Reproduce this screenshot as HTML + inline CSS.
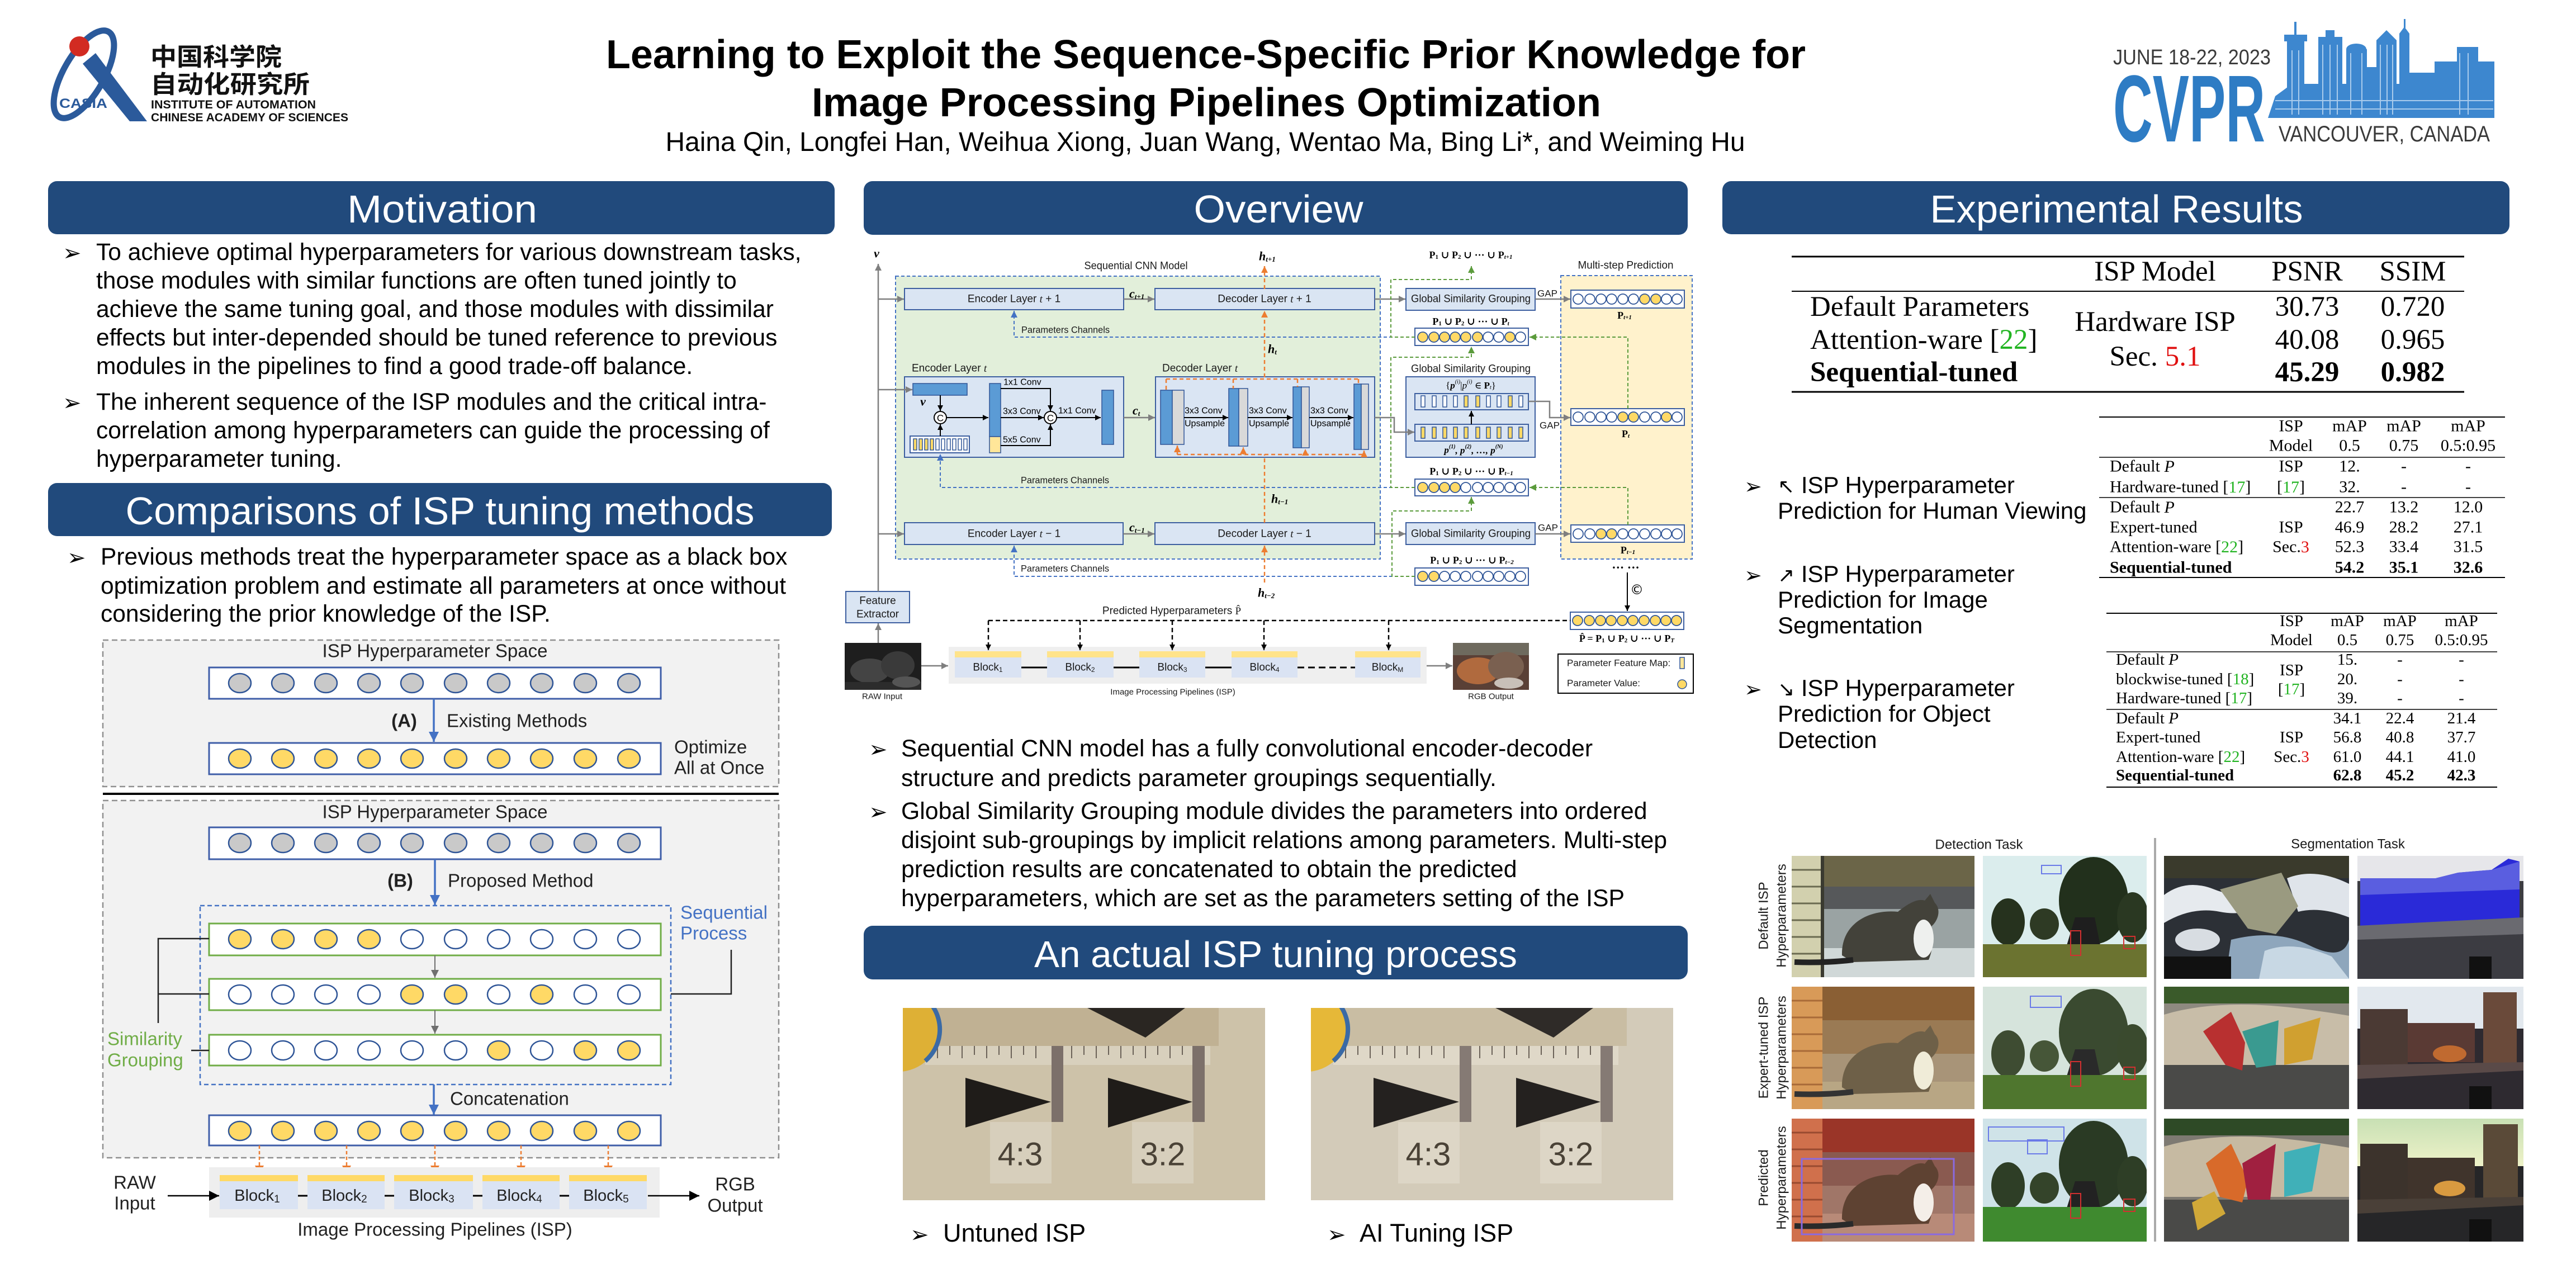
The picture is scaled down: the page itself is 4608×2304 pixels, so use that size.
<!DOCTYPE html>
<html><head><meta charset="utf-8">
<style>
html,body{margin:0;padding:0;background:#fff;}
#p{position:relative;width:4608px;height:2304px;overflow:hidden;background:#fff;}
svg{position:absolute;left:0;top:0;}
text{font-family:"Liberation Sans","DejaVu Sans",sans-serif;}
.sf{font-family:"Liberation Serif","DejaVu Serif",serif;}
.m{font-family:"Liberation Serif","DejaVu Serif",serif;font-weight:bold;font-style:italic;}
.pb{font-family:"Liberation Serif","DejaVu Serif",serif;font-weight:bold;}
.dj{font-family:"DejaVu Sans",sans-serif;}
.cjk{font-family:"Noto Sans CJK SC","WenQuanYi Zen Hei",sans-serif;}
</style></head><body><div id="p">
<svg width="4608" height="2304" viewBox="0 0 4608 2304">
<defs>
<marker id="aG" viewBox="0 0 10 10" refX="10" refY="5" markerWidth="12" markerHeight="12" markerUnits="userSpaceOnUse" orient="auto"><path d="M0,0L10,5L0,10z" fill="#7f7f7f"/></marker>
<marker id="aK" viewBox="0 0 10 10" refX="10" refY="5" markerWidth="10" markerHeight="10" markerUnits="userSpaceOnUse" orient="auto"><path d="M0,0L10,5L0,10z" fill="#000"/></marker>
<marker id="aO" viewBox="0 0 10 10" refX="10" refY="5" markerWidth="12" markerHeight="12" markerUnits="userSpaceOnUse" orient="auto"><path d="M0,0L10,5L0,10z" fill="#ed7d31"/></marker>
<marker id="aB" viewBox="0 0 10 10" refX="10" refY="5" markerWidth="12" markerHeight="12" markerUnits="userSpaceOnUse" orient="auto"><path d="M0,0L10,5L0,10z" fill="#4472c4"/></marker>
<marker id="aGr" viewBox="0 0 10 10" refX="10" refY="5" markerWidth="12" markerHeight="12" markerUnits="userSpaceOnUse" orient="auto"><path d="M0,0L10,5L0,10z" fill="#5b9b3c"/></marker>
<marker id="LB" viewBox="0 0 10 10" refX="10" refY="5" markerWidth="18" markerHeight="18" markerUnits="userSpaceOnUse" orient="auto"><path d="M0,0L10,5L0,10z" fill="#4472c4"/></marker>
<marker id="LK" viewBox="0 0 10 10" refX="10" refY="5" markerWidth="18" markerHeight="18" markerUnits="userSpaceOnUse" orient="auto"><path d="M0,0L10,5L0,10z" fill="#000"/></marker>
<marker id="LO" viewBox="0 0 10 10" refX="10" refY="5" markerWidth="16" markerHeight="16" markerUnits="userSpaceOnUse" orient="auto"><path d="M0,0L10,5L0,10z" fill="#ed7d31"/></marker>
<marker id="LG" viewBox="0 0 10 10" refX="10" refY="5" markerWidth="14" markerHeight="14" markerUnits="userSpaceOnUse" orient="auto"><path d="M0,0L10,5L0,10z" fill="#6f6f6f"/></marker>
<linearGradient id="sky1" x1="0" y1="0" x2="0" y2="1"><stop offset="0" stop-color="#c8e0b4"/><stop offset="1" stop-color="#eef2c8"/></linearGradient>
</defs>

<!-- ============ HEADER ============ -->
<ellipse cx="150" cy="133" rx="36" ry="88" transform="rotate(30 150 133)" fill="none" stroke="#2b5a9b" stroke-width="11"/>
<polygon points="148,114 171,95 263,217 232,217" fill="#2b5a9b"/>
<circle cx="142" cy="83" r="18" fill="#d22b22"/>
<text x="106" y="193" font-size="24" font-weight="bold" fill="#2b5a9b" textLength="86" lengthAdjust="spacingAndGlyphs">CASIA</text>
<text x="269" y="117" class="cjk" font-size="44" font-weight="bold" fill="#111" textLength="235" lengthAdjust="spacingAndGlyphs">中国科学院</text>
<text x="269" y="166" class="cjk" font-size="44" font-weight="bold" fill="#111" textLength="285" lengthAdjust="spacingAndGlyphs">自动化研究所</text>
<text x="270" y="194" font-size="21" font-weight="bold" fill="#111" textLength="295" lengthAdjust="spacingAndGlyphs">INSTITUTE OF AUTOMATION</text>
<text x="270" y="217" font-size="21" font-weight="bold" fill="#111" textLength="353" lengthAdjust="spacingAndGlyphs">CHINESE ACADEMY OF SCIENCES</text>

<text x="2157" y="122" font-size="72" font-weight="bold" text-anchor="middle" fill="#000" textLength="2146" lengthAdjust="spacingAndGlyphs">Learning to Exploit the Sequence-Specific Prior Knowledge for</text>
<text x="2158" y="208" font-size="72" font-weight="bold" text-anchor="middle" fill="#000" textLength="1412" lengthAdjust="spacingAndGlyphs">Image Processing Pipelines Optimization</text>
<text x="2156" y="270" font-size="48" text-anchor="middle" fill="#000" textLength="1931" lengthAdjust="spacingAndGlyphs">Haina Qin, Longfei Han, Weihua Xiong, Juan Wang, Wentao Ma, Bing Li*, and Weiming Hu</text>

<text x="3780" y="115" font-size="38" fill="#3a3a3a" textLength="282" lengthAdjust="spacingAndGlyphs">JUNE 18-22, 2023</text>
<text x="3780" y="253" font-size="170" font-weight="bold" fill="#2e7cc4" textLength="272" lengthAdjust="spacingAndGlyphs">CVPR</text>
<g fill="#3d87cf">
<rect x="4091" y="68" width="31" height="143"/><rect x="4104" y="39" width="4" height="30"/><rect x="4086" y="62" width="41" height="12"/>
<rect x="4147" y="66" width="43" height="145"/><rect x="4160" y="54" width="16" height="14"/>
<rect x="4197" y="88" width="37" height="123"/><ellipse cx="4215" cy="88" rx="18" ry="10"/>
<rect x="4251" y="72" width="36" height="139"/><polygon points="4251,72 4269,54 4287,72"/>
<rect x="4292" y="60" width="18" height="151"/><polygon points="4292,60 4301,48 4310,60"/><rect x="4300" y="34" width="3" height="16"/>
<rect x="4355" y="110" width="40" height="101"/>
<rect x="4395" y="84" width="38" height="127"/>
<rect x="4433" y="110" width="29" height="101"/>
<polygon points="4057,211 4070,172 4100,150 4462,150 4462,211"/>
<rect x="4310" y="130" width="45" height="81"/>
<rect x="4234" y="120" width="17" height="91"/>
</g>
<g stroke="#a9cbec" stroke-width="2" fill="none">
<path d="M4100,90 V205 M4112,90 V205 M4155,80 V205 M4168,80 V205 M4181,80 V205 M4205,95 V205 M4225,95 V205 M4258,80 V205 M4270,80 V205 M4280,80 V205 M4400,95 V205 M4415,95 V205 M4070,180 H4460 M4070,195 H4460"/>
</g>
<text x="4076" y="253" font-size="40" fill="#3a3a3a" textLength="378" lengthAdjust="spacingAndGlyphs">VANCOUVER, CANADA</text>

<!-- ============ SECTION HEADERS ============ -->
<g fill="#214a7c">
<rect x="86" y="324" width="1407" height="95" rx="16"/>
<rect x="86" y="864" width="1402" height="95" rx="16"/>
<rect x="1545" y="324" width="1474" height="96" rx="16"/>
<rect x="3081" y="324" width="1408" height="95" rx="16"/>
<rect x="1545" y="1656" width="1474" height="96" rx="16"/>
</g>
<g fill="#fff" text-anchor="middle">
<text x="791" y="398" font-size="70" textLength="340" lengthAdjust="spacingAndGlyphs">Motivation</text>
<text x="787" y="938" font-size="70" textLength="1125" lengthAdjust="spacingAndGlyphs">Comparisons of ISP tuning methods</text>
<text x="2287" y="398" font-size="70" textLength="303" lengthAdjust="spacingAndGlyphs">Overview</text>
<text x="3786" y="398" font-size="70" textLength="667" lengthAdjust="spacingAndGlyphs">Experimental Results</text>
<text x="2282" y="1730" font-size="67" textLength="864" lengthAdjust="spacingAndGlyphs">An actual ISP tuning process</text>
</g>

<!-- ============ LEFT TEXT ============ -->
<g font-size="42.5" fill="#000">
<text x="112" y="466" class="dj" font-size="40">➢</text>
<text x="172" y="465">To achieve optimal hyperparameters for various downstream tasks,</text>
<text x="172" y="516">those modules with similar functions are often tuned jointly to</text>
<text x="172" y="567">achieve the same tuning goal, and those modules with dissimilar</text>
<text x="172" y="618">effects but inter-depended should be tuned reference to previous</text>
<text x="172" y="669">modules in the pipelines to find a good trade-off balance.</text>
<text x="112" y="734" class="dj" font-size="40">➢</text>
<text x="172" y="733">The inherent sequence of the ISP modules and the critical intra-</text>
<text x="172" y="784">correlation among hyperparameters can guide the processing of</text>
<text x="172" y="835">hyperparameter tuning.</text>
<text x="120" y="1011" class="dj" font-size="40">➢</text>
<text x="180" y="1010">Previous methods treat the hyperparameter space as a black box</text>
<text x="180" y="1062">optimization problem and estimate all parameters at once without</text>
<text x="180" y="1112">considering the prior knowledge of the ISP.</text>
</g>

<!-- ============ LEFT DIAGRAM ============ -->
<g fill="#f2f2f2" stroke="#8f8f8f" stroke-width="2.5" stroke-dasharray="10 6">
<rect x="184" y="1145" width="1209" height="262"/>
<rect x="184" y="1432" width="1209" height="639"/>
</g>
<line x1="184" y1="1420" x2="1393" y2="1420" stroke="#000" stroke-width="4"/>
<rect x="358" y="1620" width="842" height="320" fill="none" stroke="#4472c4" stroke-width="2.5" stroke-dasharray="8 5"/>
<g fill="#fff" stroke-width="3">
<rect x="374" y="1194" width="808" height="56" stroke="#3f5ea8"/>
<rect x="374" y="1329" width="808" height="56" stroke="#3f5ea8"/>
<rect x="374" y="1480" width="808" height="57" stroke="#3f5ea8"/>
<rect x="374" y="1652" width="808" height="57" stroke="#70ad47"/>
<rect x="374" y="1751" width="808" height="56" stroke="#70ad47"/>
<rect x="374" y="1851" width="808" height="55" stroke="#70ad47"/>
<rect x="374" y="1995" width="808" height="54" stroke="#3f5ea8"/>
</g>
<g stroke="#2f5597" stroke-width="2.5">
<g fill="#c9c9c9"><ellipse cx="429" cy="1222" rx="20" ry="17"/><ellipse cx="506" cy="1222" rx="20" ry="17"/><ellipse cx="583" cy="1222" rx="20" ry="17"/><ellipse cx="660" cy="1222" rx="20" ry="17"/><ellipse cx="737" cy="1222" rx="20" ry="17"/><ellipse cx="815" cy="1222" rx="20" ry="17"/><ellipse cx="892" cy="1222" rx="20" ry="17"/><ellipse cx="969" cy="1222" rx="20" ry="17"/><ellipse cx="1047" cy="1222" rx="20" ry="17"/><ellipse cx="1125" cy="1222" rx="20" ry="17"/>
<ellipse cx="429" cy="1508" rx="20" ry="17"/><ellipse cx="506" cy="1508" rx="20" ry="17"/><ellipse cx="583" cy="1508" rx="20" ry="17"/><ellipse cx="660" cy="1508" rx="20" ry="17"/><ellipse cx="737" cy="1508" rx="20" ry="17"/><ellipse cx="815" cy="1508" rx="20" ry="17"/><ellipse cx="892" cy="1508" rx="20" ry="17"/><ellipse cx="969" cy="1508" rx="20" ry="17"/><ellipse cx="1047" cy="1508" rx="20" ry="17"/><ellipse cx="1125" cy="1508" rx="20" ry="17"/></g>
<g fill="#ffd966"><ellipse cx="429" cy="1357" rx="20" ry="17"/><ellipse cx="506" cy="1357" rx="20" ry="17"/><ellipse cx="583" cy="1357" rx="20" ry="17"/><ellipse cx="660" cy="1357" rx="20" ry="17"/><ellipse cx="737" cy="1357" rx="20" ry="17"/><ellipse cx="815" cy="1357" rx="20" ry="17"/><ellipse cx="892" cy="1357" rx="20" ry="17"/><ellipse cx="969" cy="1357" rx="20" ry="17"/><ellipse cx="1047" cy="1357" rx="20" ry="17"/><ellipse cx="1125" cy="1357" rx="20" ry="17"/>
<ellipse cx="429" cy="2023" rx="20" ry="17"/><ellipse cx="506" cy="2023" rx="20" ry="17"/><ellipse cx="583" cy="2023" rx="20" ry="17"/><ellipse cx="660" cy="2023" rx="20" ry="17"/><ellipse cx="737" cy="2023" rx="20" ry="17"/><ellipse cx="815" cy="2023" rx="20" ry="17"/><ellipse cx="892" cy="2023" rx="20" ry="17"/><ellipse cx="969" cy="2023" rx="20" ry="17"/><ellipse cx="1047" cy="2023" rx="20" ry="17"/><ellipse cx="1125" cy="2023" rx="20" ry="17"/>
<ellipse cx="429" cy="1680" rx="20" ry="17"/><ellipse cx="506" cy="1680" rx="20" ry="17"/><ellipse cx="583" cy="1680" rx="20" ry="17"/><ellipse cx="660" cy="1680" rx="20" ry="17"/>
<ellipse cx="737" cy="1779" rx="20" ry="17"/><ellipse cx="815" cy="1779" rx="20" ry="17"/><ellipse cx="969" cy="1779" rx="20" ry="17"/>
<ellipse cx="892" cy="1879" rx="20" ry="17"/><ellipse cx="1047" cy="1879" rx="20" ry="17"/><ellipse cx="1125" cy="1879" rx="20" ry="17"/></g>
<g fill="#fff"><ellipse cx="737" cy="1680" rx="20" ry="17"/><ellipse cx="815" cy="1680" rx="20" ry="17"/><ellipse cx="892" cy="1680" rx="20" ry="17"/><ellipse cx="969" cy="1680" rx="20" ry="17"/><ellipse cx="1047" cy="1680" rx="20" ry="17"/><ellipse cx="1125" cy="1680" rx="20" ry="17"/>
<ellipse cx="429" cy="1779" rx="20" ry="17"/><ellipse cx="506" cy="1779" rx="20" ry="17"/><ellipse cx="583" cy="1779" rx="20" ry="17"/><ellipse cx="660" cy="1779" rx="20" ry="17"/><ellipse cx="892" cy="1779" rx="20" ry="17"/><ellipse cx="1047" cy="1779" rx="20" ry="17"/><ellipse cx="1125" cy="1779" rx="20" ry="17"/>
<ellipse cx="429" cy="1879" rx="20" ry="17"/><ellipse cx="506" cy="1879" rx="20" ry="17"/><ellipse cx="583" cy="1879" rx="20" ry="17"/><ellipse cx="660" cy="1879" rx="20" ry="17"/><ellipse cx="737" cy="1879" rx="20" ry="17"/><ellipse cx="815" cy="1879" rx="20" ry="17"/><ellipse cx="969" cy="1879" rx="20" ry="17"/></g>
</g>
<g stroke="#4472c4" stroke-width="3.5" fill="none">
<path d="M776,1250 V1327" marker-end="url(#LB)"/>
<path d="M778,1537 V1619" marker-end="url(#LB)"/>
<path d="M776,1940 V1994" marker-end="url(#LB)"/>
</g>
<g stroke="#6f6f6f" stroke-width="2" fill="none">
<path d="M778,1709 V1749" marker-end="url(#LG)"/>
<path d="M778,1807 V1849" marker-end="url(#LG)"/>
</g>
<g stroke="#222" stroke-width="2.5" fill="none">
<path d="M374,1679 H283 V1830 M283,1778 H374 M342,1879 H374 M1200,1778 H1308 V1699"/>
</g>
<g stroke="#ed7d31" stroke-width="2.5" stroke-dasharray="6 4" fill="none">
<path d="M464,2049 V2101" marker-end="url(#LO)"/>
<path d="M620,2049 V2101" marker-end="url(#LO)"/>
<path d="M778,2049 V2101" marker-end="url(#LO)"/>
<path d="M932,2049 V2101" marker-end="url(#LO)"/>
<path d="M1088,2049 V2101" marker-end="url(#LO)"/>
</g>
<rect x="374" y="2088" width="806" height="90" fill="#eeeeee"/>
<g fill="#ffd966"><rect x="393" y="2102" width="140" height="11"/><rect x="550" y="2102" width="138" height="11"/><rect x="705" y="2102" width="141" height="11"/><rect x="863" y="2102" width="138" height="11"/><rect x="1018" y="2102" width="139" height="11"/></g>
<g fill="#dae3f3"><rect x="393" y="2113" width="140" height="50"/><rect x="550" y="2113" width="138" height="50"/><rect x="705" y="2113" width="141" height="50"/><rect x="863" y="2113" width="138" height="50"/><rect x="1018" y="2113" width="139" height="50"/></g>
<g stroke="#000" stroke-width="3"><line x1="533" y1="2139" x2="550" y2="2139"/><line x1="688" y1="2139" x2="705" y2="2139"/><line x1="846" y1="2139" x2="863" y2="2139"/><line x1="1001" y1="2139" x2="1018" y2="2139"/></g>
<g stroke="#000" stroke-width="2.5" fill="none">
<path d="M300,2139 H392" marker-end="url(#LK)"/>
<path d="M1159,2139 H1251" marker-end="url(#LK)"/>
</g>
<g font-size="33" fill="#222" dominant-baseline="central">
<text x="778" y="1164" text-anchor="middle">ISP Hyperparameter Space</text>
<text x="723" y="1289" text-anchor="middle" font-weight="bold">(A)</text>
<text x="799" y="1289">Existing Methods</text>
<text x="1206" y="1336">Optimize</text>
<text x="1206" y="1373">All at Once</text>
<text x="778" y="1452" text-anchor="middle">ISP Hyperparameter Space</text>
<text x="716" y="1575" text-anchor="middle" font-weight="bold">(B)</text>
<text x="801" y="1575">Proposed Method</text>
<text x="1217" y="1632" fill="#4472c4">Sequential</text>
<text x="1217" y="1669" fill="#4472c4">Process</text>
<text x="192" y="1858" fill="#70ad47">Similarity</text>
<text x="192" y="1896" fill="#70ad47">Grouping</text>
<text x="805" y="1965">Concatenation</text>
<text x="241" y="2115" text-anchor="middle">RAW</text>
<text x="241" y="2152" text-anchor="middle">Input</text>
<text x="1315" y="2118" text-anchor="middle">RGB</text>
<text x="1315" y="2156" text-anchor="middle">Output</text>
<text x="778" y="2199" text-anchor="middle">Image Processing Pipelines (ISP)</text>
</g>
<g font-size="29" fill="#222" dominant-baseline="central" text-anchor="middle">
<text x="460" y="2139">Block<tspan font-size="19" dy="6">1</tspan></text>
<text x="616" y="2139">Block<tspan font-size="19" dy="6">2</tspan></text>
<text x="772" y="2139">Block<tspan font-size="19" dy="6">3</tspan></text>
<text x="929" y="2139">Block<tspan font-size="19" dy="6">4</tspan></text>
<text x="1084" y="2139">Block<tspan font-size="19" dy="6">5</tspan></text>
</g>

<!-- ============ OVERVIEW DIAGRAM ============ -->
<rect x="1602" y="494" width="867" height="506" fill="#e2efda" stroke="#4472c4" stroke-width="2" stroke-dasharray="6 4"/>
<rect x="2792" y="493" width="235" height="507" fill="#fff2cc" stroke="#4472c4" stroke-width="2" stroke-dasharray="6 4"/>
<g fill="#dae5f3" stroke="#3d5fa0" stroke-width="2">
<rect x="1618" y="516" width="392" height="38"/>
<rect x="2066" y="516" width="393" height="38"/>
<rect x="1618" y="674" width="392" height="144"/>
<rect x="2067" y="674" width="392" height="144"/>
<rect x="1618" y="935" width="391" height="39"/>
<rect x="2066" y="935" width="393" height="39"/>
<rect x="2515" y="516" width="231" height="39"/>
<rect x="2515" y="674" width="231" height="144"/>
<rect x="2515" y="935" width="231" height="39"/>
<rect x="1513" y="1058" width="114" height="56"/>
<rect x="2531" y="704" width="203" height="29"/>
<rect x="2531" y="759" width="203" height="30"/>
</g>
<g fill="#fff" stroke="#3d5fa0" stroke-width="2">
<rect x="2810" y="519" width="203" height="32"/>
<rect x="2531" y="587" width="203" height="31"/>
<rect x="2810" y="731" width="203" height="30"/>
<rect x="2531" y="857" width="203" height="30"/>
<rect x="2810" y="939" width="203" height="31"/>
<rect x="2531" y="1016" width="203" height="31"/>
<rect x="2809" y="1095" width="203" height="31"/>
<rect x="1628" y="780" width="106" height="30"/>
</g>
<g stroke="#2f5597" stroke-width="1.8">
<g fill="#fff">
<circle cx="2823" cy="535" r="9"/><circle cx="2844" cy="535" r="9"/><circle cx="2864" cy="535" r="9"/><circle cx="2883" cy="535" r="9"/><circle cx="2903" cy="535" r="9"/><circle cx="2922" cy="535" r="9"/><circle cx="2981" cy="535" r="9"/><circle cx="3000" cy="535" r="9"/>
<circle cx="2662" cy="603" r="9"/><circle cx="2681" cy="603" r="9"/><circle cx="2720" cy="603" r="9"/>
<circle cx="2823" cy="746" r="9"/><circle cx="2844" cy="746" r="9"/><circle cx="2864" cy="746" r="9"/><circle cx="2883" cy="746" r="9"/><circle cx="2942" cy="746" r="9"/><circle cx="2962" cy="746" r="9"/><circle cx="3000" cy="746" r="9"/>
<circle cx="2622" cy="872" r="9"/><circle cx="2643" cy="872" r="9"/><circle cx="2662" cy="872" r="9"/><circle cx="2681" cy="872" r="9"/><circle cx="2701" cy="872" r="9"/><circle cx="2720" cy="872" r="9"/>
<circle cx="2823" cy="955" r="9"/><circle cx="2844" cy="955" r="9"/><circle cx="2903" cy="955" r="9"/><circle cx="2922" cy="955" r="9"/><circle cx="2942" cy="955" r="9"/><circle cx="2962" cy="955" r="9"/><circle cx="2981" cy="955" r="9"/><circle cx="3000" cy="955" r="9"/>
<circle cx="2584" cy="1031" r="9"/><circle cx="2603" cy="1031" r="9"/><circle cx="2622" cy="1031" r="9"/><circle cx="2643" cy="1031" r="9"/><circle cx="2662" cy="1031" r="9"/><circle cx="2681" cy="1031" r="9"/><circle cx="2701" cy="1031" r="9"/><circle cx="2720" cy="1031" r="9"/>
</g>
<g fill="#ffd966">
<circle cx="2942" cy="535" r="9"/><circle cx="2962" cy="535" r="9"/>
<circle cx="2545" cy="603" r="9"/><circle cx="2565" cy="603" r="9"/><circle cx="2584" cy="603" r="9"/><circle cx="2603" cy="603" r="9"/><circle cx="2622" cy="603" r="9"/><circle cx="2643" cy="603" r="9"/><circle cx="2701" cy="603" r="9"/>
<circle cx="2903" cy="746" r="9"/><circle cx="2922" cy="746" r="9"/><circle cx="2981" cy="746" r="9"/>
<circle cx="2545" cy="872" r="9"/><circle cx="2565" cy="872" r="9"/><circle cx="2584" cy="872" r="9"/><circle cx="2603" cy="872" r="9"/>
<circle cx="2864" cy="955" r="9"/><circle cx="2883" cy="955" r="9"/>
<circle cx="2545" cy="1031" r="9"/><circle cx="2565" cy="1031" r="9"/>
<circle cx="2822" cy="1110" r="9"/><circle cx="2843" cy="1110" r="9"/><circle cx="2863" cy="1110" r="9"/><circle cx="2882" cy="1110" r="9"/><circle cx="2902" cy="1110" r="9"/><circle cx="2921" cy="1110" r="9"/><circle cx="2941" cy="1110" r="9"/><circle cx="2961" cy="1110" r="9"/><circle cx="2980" cy="1110" r="9"/><circle cx="2999" cy="1110" r="9"/>
</g>
</g>
<g stroke="#2f5597" stroke-width="1.5">
<g fill="#fff"><rect x="2542" y="708" width="7" height="20"/><rect x="2562" y="708" width="7" height="20"/><rect x="2581" y="708" width="7" height="20"/><rect x="2600" y="708" width="7" height="20"/><rect x="2659" y="708" width="7" height="20"/><rect x="2678" y="708" width="7" height="20"/><rect x="2717" y="708" width="7" height="20"/>
<rect x="1674" y="785" width="6" height="20"/><rect x="1684" y="785" width="6" height="20"/><rect x="1694" y="785" width="6" height="20"/><rect x="1704" y="785" width="6" height="20"/><rect x="1714" y="785" width="6" height="20"/><rect x="1724" y="785" width="6" height="20"/></g>
<g fill="#ffd966"><rect x="2619" y="708" width="7" height="20"/><rect x="2640" y="708" width="7" height="20"/><rect x="2698" y="708" width="7" height="20"/>
<rect x="2542" y="764" width="7" height="20"/><rect x="2562" y="764" width="7" height="20"/><rect x="2581" y="764" width="7" height="20"/><rect x="2600" y="764" width="7" height="20"/><rect x="2619" y="764" width="7" height="20"/><rect x="2640" y="764" width="7" height="20"/><rect x="2659" y="764" width="7" height="20"/><rect x="2678" y="764" width="7" height="20"/><rect x="2698" y="764" width="7" height="20"/><rect x="2717" y="764" width="7" height="20"/>
<rect x="1634" y="785" width="6" height="20"/><rect x="1644" y="785" width="6" height="20"/><rect x="1654" y="785" width="6" height="20"/><rect x="1664" y="785" width="6" height="20"/></g>
</g>
<g stroke="#2f5597" stroke-width="1.5">
<rect x="1633" y="686" width="97" height="21" fill="#5b9bd5"/>
<rect x="1770" y="686" width="20" height="95" fill="#5b9bd5"/>
<rect x="1770" y="781" width="20" height="29" fill="#ffe699"/>
<rect x="1971" y="698" width="21" height="97" fill="#5b9bd5"/>
<rect x="2076" y="698" width="21" height="97" fill="#5b9bd5"/><rect x="2097" y="698" width="21" height="97" fill="#d9d9d9"/>
<rect x="2198" y="695" width="18" height="103" fill="#5b9bd5"/><rect x="2216" y="695" width="16" height="103" fill="#d9d9d9"/>
<rect x="2313" y="692" width="15" height="109" fill="#5b9bd5"/><rect x="2328" y="692" width="14" height="109" fill="#d9d9d9"/>
<rect x="2422" y="687" width="13" height="117" fill="#5b9bd5"/><rect x="2435" y="687" width="13" height="117" fill="#d9d9d9"/>
</g>
<g stroke="#000" stroke-width="2" fill="none">
<path d="M1682,707 V735" marker-end="url(#aK)"/>
<path d="M1682,780 V759" marker-end="url(#aK)"/>
<path d="M1693,747 H1768" marker-end="url(#aK)"/>
<path d="M1790,695 H1879 V735" marker-end="url(#aK)"/>
<path d="M1790,747 H1867" marker-end="url(#aK)"/>
<path d="M1790,797 H1879 V759" marker-end="url(#aK)"/>
<path d="M1890,747 H1969" marker-end="url(#aK)"/>
<path d="M2118,747 H2197" marker-end="url(#aK)"/>
<path d="M2232,747 H2312" marker-end="url(#aK)"/>
<path d="M2342,747 H2421" marker-end="url(#aK)"/>
<path d="M2632,759 V735" marker-end="url(#aK)"/>
<path d="M2911,1024 V1093" marker-end="url(#aK)"/>
</g>
<g fill="#fff" stroke="#000" stroke-width="2"><circle cx="1682" cy="747" r="11"/><circle cx="1879" cy="747" r="11"/></g>
<g font-size="17" text-anchor="middle" dominant-baseline="central"><text x="1682" y="748">C</text><text x="1879" y="748">C</text></g>
<g stroke="#7f7f7f" stroke-width="2.5" fill="none">
<path d="M1571,1058 V472" marker-end="url(#aG)"/>
<path d="M1571,535 H1617" marker-end="url(#aG)"/>
<path d="M1571,697 H1632" marker-end="url(#aG)"/>
<path d="M1571,955 H1617" marker-end="url(#aG)"/>
<path d="M2010,535 H2065" marker-end="url(#aG)"/>
<path d="M2010,747 H2066" marker-end="url(#aG)"/>
<path d="M2009,955 H2065" marker-end="url(#aG)"/>
<path d="M2459,535 H2514" marker-end="url(#aG)"/>
<path d="M2746,535 H2809" marker-end="url(#aG)"/>
<path d="M2459,747 H2494 V773 H2530" marker-end="url(#aG)"/>
<path d="M2734,718 H2772 V747 H2809" marker-end="url(#aG)"/>
<path d="M2459,955 H2514" marker-end="url(#aG)"/>
<path d="M2746,955 H2809" marker-end="url(#aG)"/>
<path d="M1571,1150 V1115" marker-end="url(#aG)"/>
<path d="M1648,1191 H1696" marker-end="url(#aG)"/>
<path d="M2541,1191 H2598" marker-end="url(#aG)"/>
</g>
<g stroke="#ed7d31" stroke-width="2.5" stroke-dasharray="7 5" fill="none">
<path d="M2262,517 V476" marker-end="url(#aO)"/>
<path d="M2262,675 V556" marker-end="url(#aO)"/>
<path d="M2262,935 V813 M2106,813 H2440 M2086,678 H2430 M2086,678 V698 M2206,678 V695 M2321,678 V692 M2430,678 V687"/>
<path d="M2106,813 V797" marker-end="url(#aO)"/>
<path d="M2224,813 V800" marker-end="url(#aO)"/>
<path d="M2335,813 V803" marker-end="url(#aO)"/>
<path d="M2440,813 V806" marker-end="url(#aO)"/>
<path d="M2262,1042 V976" marker-end="url(#aO)"/>
</g>
<g stroke="#4472c4" stroke-width="2" stroke-dasharray="6 4" fill="none">
<path d="M2531,603 H1814 V556" marker-end="url(#aB)"/>
<path d="M2531,872 H1682 V812" marker-end="url(#aB)"/>
<path d="M2531,1031 H1814 V976" marker-end="url(#aB)"/>
</g>
<g stroke="#5b9b3c" stroke-width="2" stroke-dasharray="6 4" fill="none">
<path d="M2531,603 H2488 V500 H2632 V476" marker-end="url(#aGr)"/>
<path d="M2912,731 V603 H2736" marker-end="url(#aGr)"/>
<path d="M2531,872 H2488 V639 H2632 V620" marker-end="url(#aGr)"/>
<path d="M2912,939 V872 H2736" marker-end="url(#aGr)"/>
<path d="M2531,1031 H2490 V914 H2632 V889" marker-end="url(#aGr)"/>
</g>
<rect x="1697" y="1157" width="855" height="66" fill="#efefef"/>
<g fill="#ffe38a"><rect x="1708" y="1165" width="119" height="11"/><rect x="1873" y="1165" width="119" height="11"/><rect x="2038" y="1165" width="118" height="11"/><rect x="2203" y="1165" width="118" height="11"/><rect x="2424" y="1165" width="117" height="11"/></g>
<g fill="#dae3f3"><rect x="1708" y="1176" width="119" height="36"/><rect x="1873" y="1176" width="119" height="36"/><rect x="2038" y="1176" width="118" height="36"/><rect x="2203" y="1176" width="118" height="36"/><rect x="2424" y="1176" width="117" height="36"/></g>
<g stroke="#000" stroke-width="3"><line x1="1827" y1="1194" x2="1873" y2="1194"/><line x1="1992" y1="1194" x2="2038" y2="1194"/><line x1="2156" y1="1194" x2="2203" y2="1194"/><line x1="2321" y1="1194" x2="2424" y2="1194" stroke-dasharray="12 7"/></g>
<g stroke="#000" stroke-width="2.5" stroke-dasharray="8 5" fill="none">
<path d="M1768,1110 H2809"/>
<path d="M1768,1110 V1163" marker-end="url(#aK)"/>
<path d="M1932,1110 V1163" marker-end="url(#aK)"/>
<path d="M2097,1110 V1163" marker-end="url(#aK)"/>
<path d="M2261,1110 V1163" marker-end="url(#aK)"/>
<path d="M2484,1110 V1163" marker-end="url(#aK)"/>
</g>
<svg x="1511" y="1150" width="137" height="84" viewBox="0 0 137 84">
<rect width="137" height="84" fill="#1e1e1e"/><ellipse cx="45" cy="50" rx="35" ry="22" fill="#444"/><ellipse cx="95" cy="40" rx="30" ry="25" fill="#3a3a3a"/><rect x="0" y="70" width="137" height="14" fill="#2c2c2c"/><ellipse cx="110" cy="70" rx="25" ry="10" fill="#555"/>
</svg>
<svg x="2599" y="1150" width="136" height="84" viewBox="0 0 136 84">
<rect width="136" height="84" fill="#5a4036"/><rect width="136" height="22" fill="#6e6a5e"/><ellipse cx="45" cy="50" rx="38" ry="24" fill="#b06a3e"/><ellipse cx="95" cy="42" rx="32" ry="26" fill="#7a6050"/><ellipse cx="100" cy="72" rx="26" ry="10" fill="#c8c0b8"/>
</svg>
<rect x="2787" y="1170" width="242" height="70" fill="#fff" stroke="#000" stroke-width="2"/>
<rect x="3005" y="1176" width="8" height="20" fill="#ffe699" stroke="#2f5597" stroke-width="1.5"/>
<circle cx="3009" cy="1224" r="8" fill="#ffd966" stroke="#2f5597" stroke-width="1.5"/>
<g font-size="19" fill="#1a1a1a" dominant-baseline="central">
<text x="2032" y="476" text-anchor="middle" textLength="185" lengthAdjust="spacingAndGlyphs">Sequential CNN Model</text>
<text x="1814" y="535" text-anchor="middle">Encoder Layer <tspan class="sf" font-style="italic">t</tspan> + 1</text>
<text x="2262" y="535" text-anchor="middle">Decoder Layer <tspan class="sf" font-style="italic">t</tspan> + 1</text>
<text x="1814" y="955" text-anchor="middle">Encoder Layer <tspan class="sf" font-style="italic">t</tspan> − 1</text>
<text x="2262" y="955" text-anchor="middle">Decoder Layer <tspan class="sf" font-style="italic">t</tspan> − 1</text>
<text x="1631" y="659">Encoder Layer <tspan class="sf" font-style="italic">t</tspan></text>
<text x="2079" y="659">Decoder Layer <tspan class="sf" font-style="italic">t</tspan></text>
<text x="2631" y="535" text-anchor="middle" textLength="214" lengthAdjust="spacingAndGlyphs">Global Similarity Grouping</text>
<text x="2631" y="660" text-anchor="middle" textLength="214" lengthAdjust="spacingAndGlyphs">Global Similarity Grouping</text>
<text x="2631" y="955" text-anchor="middle" textLength="214" lengthAdjust="spacingAndGlyphs">Global Similarity Grouping</text>
<text x="2908" y="475" text-anchor="middle" textLength="171" lengthAdjust="spacingAndGlyphs">Multi-step Prediction</text>
<text x="1570" y="1075" text-anchor="middle">Feature</text>
<text x="1570" y="1099" text-anchor="middle">Extractor</text>
<text x="2096" y="1093" text-anchor="middle">Predicted Hyperparameters <tspan class="sf">P̂</tspan></text>
<text x="1767" y="1194" text-anchor="middle">Block<tspan font-size="12" dy="4">1</tspan></text>
<text x="1932" y="1194" text-anchor="middle">Block<tspan font-size="12" dy="4">2</tspan></text>
<text x="2097" y="1194" text-anchor="middle">Block<tspan font-size="12" dy="4">3</tspan></text>
<text x="2262" y="1194" text-anchor="middle">Block<tspan font-size="12" dy="4">4</tspan></text>
<text x="2482" y="1194" text-anchor="middle">Block<tspan font-size="12" dy="4">M</tspan></text>
</g>
<g font-size="17" fill="#1a1a1a" dominant-baseline="central">
<text x="1906" y="590" text-anchor="middle" textLength="158" lengthAdjust="spacingAndGlyphs">Parameters Channels</text>
<text x="1905" y="859" text-anchor="middle" textLength="158" lengthAdjust="spacingAndGlyphs">Parameters Channels</text>
<text x="1905" y="1017" text-anchor="middle" textLength="158" lengthAdjust="spacingAndGlyphs">Parameters Channels</text>
<text x="2768" y="525" text-anchor="middle">GAP</text>
<text x="2772" y="761" text-anchor="middle">GAP</text>
<text x="2769" y="944" text-anchor="middle">GAP</text>
<text x="2803" y="1186">Parameter Feature Map:</text>
<text x="2803" y="1222">Parameter Value:</text>
<text x="1578" y="1246" text-anchor="middle" font-size="15">RAW Input</text>
<text x="2667" y="1246" text-anchor="middle" font-size="15">RGB Output</text>
<text x="2098" y="1238" text-anchor="middle" font-size="15">Image Processing Pipelines (ISP)</text>
</g>
<g font-size="16" fill="#000" dominant-baseline="central">
<text x="1795" y="684">1x1 Conv</text>
<text x="1794" y="736">3x3 Conv</text>
<text x="1794" y="787">5x5 Conv</text>
<text x="1893" y="735">1x1 Conv</text>
<text x="2119" y="735">3x3 Conv</text><text x="2119" y="758">Upsample</text>
<text x="2234" y="735">3x3 Conv</text><text x="2234" y="758">Upsample</text>
<text x="2344" y="735">3x3 Conv</text><text x="2344" y="758">Upsample</text>
</g>
<g fill="#000" dominant-baseline="central">
<text x="1568" y="453" class="m" font-size="22" text-anchor="middle">v</text>
<text x="1651" y="718" class="m" font-size="22" text-anchor="middle">v</text>
<text x="2252" y="458" class="m" font-size="22">h<tspan font-size="13" dy="5">t+1</tspan></text>
<text x="2268" y="624" class="m" font-size="22">h<tspan font-size="13" dy="5">t</tspan></text>
<text x="2274" y="892" class="m" font-size="22">h<tspan font-size="13" dy="5">t−1</tspan></text>
<text x="2250" y="1060" class="m" font-size="22">h<tspan font-size="13" dy="5">t−2</tspan></text>
<text x="2020" y="525" class="m" font-size="22">c<tspan font-size="13" dy="5">t+1</tspan></text>
<text x="2026" y="734" class="m" font-size="22">c<tspan font-size="13" dy="5">t</tspan></text>
<text x="2020" y="943" class="m" font-size="22">c<tspan font-size="13" dy="5">t−1</tspan></text>
<text x="2631" y="456" class="pb" font-size="18" text-anchor="middle">P<tspan font-size="11" dy="4">1</tspan><tspan dy="-4"> ∪ P</tspan><tspan font-size="11" dy="4">2</tspan><tspan dy="-4"> ∪ ··· ∪ P</tspan><tspan font-size="11" dy="4" font-style="italic">t+1</tspan></text>
<text x="2631" y="575" class="pb" font-size="18" text-anchor="middle">P<tspan font-size="11" dy="4">1</tspan><tspan dy="-4"> ∪ P</tspan><tspan font-size="11" dy="4">2</tspan><tspan dy="-4"> ∪ ··· ∪ P</tspan><tspan font-size="11" dy="4" font-style="italic">t</tspan></text>
<text x="2632" y="843" class="pb" font-size="18" text-anchor="middle">P<tspan font-size="11" dy="4">1</tspan><tspan dy="-4"> ∪ P</tspan><tspan font-size="11" dy="4">2</tspan><tspan dy="-4"> ∪ ··· ∪ P</tspan><tspan font-size="11" dy="4" font-style="italic">t−1</tspan></text>
<text x="2633" y="1002" class="pb" font-size="18" text-anchor="middle">P<tspan font-size="11" dy="4">1</tspan><tspan dy="-4"> ∪ P</tspan><tspan font-size="11" dy="4">2</tspan><tspan dy="-4"> ∪ ··· ∪ P</tspan><tspan font-size="11" dy="4" font-style="italic">t−2</tspan></text>
<text x="2906" y="564" class="pb" font-size="18" text-anchor="middle">P<tspan font-size="11" dy="4" font-style="italic">t+1</tspan></text>
<text x="2908" y="776" class="pb" font-size="18" text-anchor="middle">P<tspan font-size="11" dy="4" font-style="italic">t</tspan></text>
<text x="2912" y="984" class="pb" font-size="18" text-anchor="middle">P<tspan font-size="11" dy="4" font-style="italic">t−1</tspan></text>
<text x="2910" y="1142" class="pb" font-size="18" text-anchor="middle">P̂ = P<tspan font-size="11" dy="4">1</tspan><tspan dy="-4"> ∪ P</tspan><tspan font-size="11" dy="4">2</tspan><tspan dy="-4"> ∪ ··· ∪ P</tspan><tspan font-size="11" dy="4" font-style="italic">T</tspan></text>
<text x="2631" y="689" class="sf" font-size="17" text-anchor="middle">{<tspan font-weight="bold" font-style="italic">p</tspan><tspan font-size="10" dy="-6" font-style="italic">(i)</tspan><tspan dy="6">|</tspan><tspan font-style="italic">p</tspan><tspan font-size="10" dy="-6" font-style="italic">(i)</tspan><tspan dy="6"> ∈ </tspan><tspan font-weight="bold">P</tspan><tspan font-size="10" dy="4" font-style="italic">t</tspan><tspan dy="-4">}</tspan></text>
<text x="2636" y="805" class="m" font-size="17" text-anchor="middle">p<tspan font-size="10" dy="-6">(1)</tspan><tspan dy="6">, p</tspan><tspan font-size="10" dy="-6">(2)</tspan><tspan dy="6">, …, p</tspan><tspan font-size="10" dy="-6">(N)</tspan></text>
<text x="2908" y="1015" class="pb" font-size="22" text-anchor="middle">··· ···</text>
<text x="2928" y="1055" class="dj" font-size="24" text-anchor="middle">©</text>
</g>

<!-- ============ OVERVIEW TEXT ============ -->
<g font-size="42.8" fill="#000">
<text x="1554" y="1354" class="dj" font-size="40">➢</text>
<text x="1612" y="1353">Sequential CNN model has a fully convolutional encoder-decoder</text>
<text x="1612" y="1406">structure and predicts parameter groupings sequentially.</text>
<text x="1554" y="1466" class="dj" font-size="40">➢</text>
<text x="1612" y="1465">Global Similarity Grouping module divides the parameters into ordered</text>
<text x="1612" y="1517">disjoint sub-groupings by implicit relations among parameters. Multi-step</text>
<text x="1612" y="1569">prediction results are concatenated to obtain the predicted</text>
<text x="1612" y="1621">hyperparameters, which are set as the parameters setting of the ISP</text>
</g>

<svg x="1615" y="1803" width="648" height="344" viewBox="0 0 648 344">
<rect width="648" height="344" fill="#cdc2a9"/>
<rect x="55" y="0" width="510" height="68" fill="#c0b193"/>
<polygon points="330,0 505,0 434,53" fill="#2a2622"/>
<rect x="40" y="68" width="510" height="34" fill="#d8d0bd"/>
<g stroke="#6b6258" stroke-width="2"><path d="M62,68V90M84,68V84M106,68V90M128,68V84M150,68V90M172,68V84M194,68V90M216,68V84M238,68V90M302,68V90M324,68V84M346,68V90M368,68V84M390,68V90M412,68V84M434,68V90M456,68V84M478,68V90M500,68V84"/></g>
<rect x="266" y="68" width="21" height="136" fill="#7c706a"/>
<rect x="518" y="68" width="22" height="136" fill="#7c706a"/>
<rect x="156" y="204" width="110" height="110" fill="#d7cfbc"/>
<rect x="410" y="204" width="110" height="110" fill="#d7cfbc"/>
<polygon points="112,125 112,214 265,168" fill="#1f1c19"/>
<polygon points="367,125 367,214 518,168" fill="#1f1c19"/>
<text x="210" y="262" font-size="58" fill="#4a4236" text-anchor="middle" dominant-baseline="central">4:3</text>
<text x="465" y="262" font-size="58" fill="#4a4236" text-anchor="middle" dominant-baseline="central">3:2</text>
<circle cx="-8" cy="40" r="74" fill="#deb035"/>
<path d="M52,-5 A74,74 0 0 1 40,95" stroke="#3a6aa5" stroke-width="8" fill="none"/>
</svg>
<svg x="2345" y="1803" width="648" height="344" viewBox="0 0 648 344">
<rect width="648" height="344" fill="#d3cbb9"/>
<rect x="55" y="0" width="510" height="68" fill="#c9bda3"/>
<polygon points="330,0 505,0 434,53" fill="#2f2b28"/>
<rect x="40" y="68" width="510" height="34" fill="#dfd8c8"/>
<g stroke="#6b6258" stroke-width="2"><path d="M62,68V90M84,68V84M106,68V90M128,68V84M150,68V90M172,68V84M194,68V90M216,68V84M238,68V90M302,68V90M324,68V84M346,68V90M368,68V84M390,68V90M412,68V84M434,68V90M456,68V84M478,68V90M500,68V84"/></g>
<rect x="266" y="68" width="21" height="136" fill="#857a74"/>
<rect x="518" y="68" width="22" height="136" fill="#857a74"/>
<rect x="156" y="204" width="110" height="110" fill="#ddd6c6"/>
<rect x="410" y="204" width="110" height="110" fill="#ddd6c6"/>
<polygon points="112,125 112,214 265,168" fill="#24211f"/>
<polygon points="367,125 367,214 518,168" fill="#24211f"/>
<text x="210" y="262" font-size="58" fill="#4a4236" text-anchor="middle" dominant-baseline="central">4:3</text>
<text x="465" y="262" font-size="58" fill="#4a4236" text-anchor="middle" dominant-baseline="central">3:2</text>
<circle cx="-8" cy="40" r="74" fill="#e6b838"/>
<path d="M52,-5 A74,74 0 0 1 40,95" stroke="#3a6aa5" stroke-width="8" fill="none"/>
</svg>
<text x="1628" y="2222" class="dj" font-size="40">➢</text>
<text x="1687" y="2221" font-size="45">Untuned ISP</text>
<text x="2374" y="2222" class="dj" font-size="40">➢</text>
<text x="2432" y="2221" font-size="45">AI Tuning ISP</text>

<!-- ============ RESULTS ============ -->
<g stroke="#000"><line x1="3205" y1="459" x2="4408" y2="459" stroke-width="3"/><line x1="3205" y1="521" x2="4408" y2="521" stroke-width="2"/><line x1="3205" y1="701" x2="4408" y2="701" stroke-width="3"/></g>
<g font-size="51" fill="#000" dominant-baseline="central">
<text x="3855" y="486" text-anchor="middle" class="sf">ISP Model</text>
<text x="4127" y="486" text-anchor="middle" class="sf">PSNR</text>
<text x="4316" y="486" text-anchor="middle" class="sf">SSIM</text>
<text x="3238" y="549" class="sf">Default Parameters</text>
<text x="3238" y="608" class="sf">Attention-ware [<tspan fill="#22b422">22</tspan>]</text>
<text x="3238" y="666" class="sf" font-weight="bold">Sequential-tuned</text>
<text x="3855" y="576" text-anchor="middle" class="sf">Hardware ISP</text>
<text x="3855" y="638" text-anchor="middle" class="sf">Sec. <tspan fill="#e01010">5.1</tspan></text>
<text x="4127" y="549" text-anchor="middle" class="sf">30.73</text>
<text x="4127" y="608" text-anchor="middle" class="sf">40.08</text>
<text x="4127" y="666" text-anchor="middle" class="sf" font-weight="bold">45.29</text>
<text x="4316" y="549" text-anchor="middle" class="sf">0.720</text>
<text x="4316" y="608" text-anchor="middle" class="sf">0.965</text>
<text x="4316" y="666" text-anchor="middle" class="sf" font-weight="bold">0.982</text>
</g>
<g stroke="#000"><line x1="3755" y1="746" x2="4481" y2="746" stroke-width="2"/><line x1="3755" y1="818" x2="4481" y2="818" stroke-width="1.5"/><line x1="3755" y1="890" x2="4481" y2="890" stroke-width="1.5"/><line x1="3755" y1="1033" x2="4481" y2="1033" stroke-width="2"/></g>
<g font-size="30" fill="#000" dominant-baseline="central">
<g text-anchor="middle">
<text x="4098" y="762" class="sf">ISP</text><text x="4098" y="797" class="sf">Model</text>
<text x="4203" y="762" class="sf">mAP</text><text x="4203" y="797" class="sf">0.5</text>
<text x="4300" y="762" class="sf">mAP</text><text x="4300" y="797" class="sf">0.75</text>
<text x="4415" y="762" class="sf">mAP</text><text x="4415" y="797" class="sf">0.5:0.95</text>
<text x="4098" y="834" class="sf">ISP</text><text x="4098" y="871" class="sf">[<tspan fill="#22b422">17</tspan>]</text>
<text x="4203" y="834" class="sf">12.</text><text x="4203" y="871" class="sf">32.</text>
<text x="4300" y="834" class="sf">-</text><text x="4300" y="871" class="sf">-</text>
<text x="4415" y="834" class="sf">-</text><text x="4415" y="871" class="sf">-</text>
<text x="4098" y="943" class="sf">ISP</text><text x="4098" y="978" class="sf">Sec.<tspan fill="#e01010">3</tspan></text>
<text x="4203" y="907" class="sf">22.7</text><text x="4203" y="943" class="sf">46.9</text><text x="4203" y="978" class="sf">52.3</text><text x="4203" y="1015" class="sf" font-weight="bold">54.2</text>
<text x="4300" y="907" class="sf">13.2</text><text x="4300" y="943" class="sf">28.2</text><text x="4300" y="978" class="sf">33.4</text><text x="4300" y="1015" class="sf" font-weight="bold">35.1</text>
<text x="4415" y="907" class="sf">12.0</text><text x="4415" y="943" class="sf">27.1</text><text x="4415" y="978" class="sf">31.5</text><text x="4415" y="1015" class="sf" font-weight="bold">32.6</text>
</g>
<text x="3774" y="834" class="sf">Default <tspan font-style="italic">P</tspan></text>
<text x="3774" y="871" class="sf">Hardware-tuned [<tspan fill="#22b422">17</tspan>]</text>
<text x="3774" y="907" class="sf">Default <tspan font-style="italic">P</tspan></text>
<text x="3774" y="943" class="sf">Expert-tuned</text>
<text x="3774" y="978" class="sf">Attention-ware [<tspan fill="#22b422">22</tspan>]</text>
<text x="3774" y="1015" class="sf" font-weight="bold">Sequential-tuned</text>
</g>
<g stroke="#000"><line x1="3768" y1="1097" x2="4467" y2="1097" stroke-width="2"/><line x1="3768" y1="1166" x2="4467" y2="1166" stroke-width="1.5"/><line x1="3768" y1="1269" x2="4467" y2="1269" stroke-width="1.5"/><line x1="3768" y1="1408" x2="4467" y2="1408" stroke-width="2"/></g>
<g font-size="29" fill="#000" dominant-baseline="central">
<g text-anchor="middle">
<text x="4099" y="1111" class="sf">ISP</text><text x="4099" y="1145" class="sf">Model</text>
<text x="4199" y="1111" class="sf">mAP</text><text x="4199" y="1145" class="sf">0.5</text>
<text x="4293" y="1111" class="sf">mAP</text><text x="4293" y="1145" class="sf">0.75</text>
<text x="4403" y="1111" class="sf">mAP</text><text x="4403" y="1145" class="sf">0.5:0.95</text>
<text x="4099" y="1199" class="sf">ISP</text><text x="4099" y="1233" class="sf">[<tspan fill="#22b422">17</tspan>]</text>
<text x="4199" y="1180" class="sf">15.</text><text x="4199" y="1215" class="sf">20.</text><text x="4199" y="1249" class="sf">39.</text>
<text x="4293" y="1180" class="sf">-</text><text x="4293" y="1215" class="sf">-</text><text x="4293" y="1249" class="sf">-</text>
<text x="4403" y="1180" class="sf">-</text><text x="4403" y="1215" class="sf">-</text><text x="4403" y="1249" class="sf">-</text>
<text x="4099" y="1319" class="sf">ISP</text><text x="4099" y="1354" class="sf">Sec.<tspan fill="#e01010">3</tspan></text>
<text x="4199" y="1285" class="sf">34.1</text><text x="4199" y="1319" class="sf">56.8</text><text x="4199" y="1354" class="sf">61.0</text><text x="4199" y="1387" class="sf" font-weight="bold">62.8</text>
<text x="4293" y="1285" class="sf">22.4</text><text x="4293" y="1319" class="sf">40.8</text><text x="4293" y="1354" class="sf">44.1</text><text x="4293" y="1387" class="sf" font-weight="bold">45.2</text>
<text x="4403" y="1285" class="sf">21.4</text><text x="4403" y="1319" class="sf">37.7</text><text x="4403" y="1354" class="sf">41.0</text><text x="4403" y="1387" class="sf" font-weight="bold">42.3</text>
</g>
<text x="3785" y="1180" class="sf">Default <tspan font-style="italic">P</tspan></text>
<text x="3785" y="1215" class="sf">blockwise-tuned [<tspan fill="#22b422">18</tspan>]</text>
<text x="3785" y="1249" class="sf">Hardware-tuned [<tspan fill="#22b422">17</tspan>]</text>
<text x="3785" y="1285" class="sf">Default <tspan font-style="italic">P</tspan></text>
<text x="3785" y="1319" class="sf">Expert-tuned</text>
<text x="3785" y="1354" class="sf">Attention-ware [<tspan fill="#22b422">22</tspan>]</text>
<text x="3785" y="1387" class="sf" font-weight="bold">Sequential-tuned</text>
</g>
<g font-size="42" fill="#000">
<text x="3120" y="883" class="dj" font-size="38">➢</text>
<text x="3180" y="882"><tspan class="dj" font-size="36">↖</tspan> ISP Hyperparameter</text>
<text x="3180" y="928">Prediction for Human Viewing</text>
<text x="3120" y="1042" class="dj" font-size="38">➢</text>
<text x="3180" y="1041"><tspan class="dj" font-size="36">↗</tspan> ISP Hyperparameter</text>
<text x="3180" y="1087">Prediction for Image</text>
<text x="3180" y="1133">Segmentation</text>
<text x="3120" y="1246" class="dj" font-size="38">➢</text>
<text x="3180" y="1245"><tspan class="dj" font-size="36">↘</tspan> ISP Hyperparameter</text>
<text x="3180" y="1291">Prediction for Object</text>
<text x="3180" y="1338">Detection</text>
</g>

<g font-size="24" fill="#1a1a1a" text-anchor="middle" dominant-baseline="central">
<text x="3540" y="1511">Detection Task</text>
<text x="4200" y="1510">Segmentation Task</text>
<text transform="translate(3155,1638) rotate(-90)">Default ISP</text>
<text transform="translate(3187,1638) rotate(-90)">Hyperparameters</text>
<text transform="translate(3155,1874) rotate(-90)">Expert-tuned ISP</text>
<text transform="translate(3187,1874) rotate(-90)">Hyperparameters</text>
<text transform="translate(3155,2107) rotate(-90)">Predicted</text>
<text transform="translate(3187,2107) rotate(-90)">Hyperparameters</text>
</g>
<line x1="3855" y1="1499" x2="3855" y2="2221" stroke="#aaaaaa" stroke-width="4"/>

<svg x="3205" y="1531" width="327" height="217" viewBox="0 0 327 217">
<rect width="327" height="217" fill="#8d9189"/><rect width="327" height="55" fill="#6b6548"/><rect y="55" width="327" height="40" fill="#56585a"/><rect y="95" width="327" height="70" fill="#9aa3a3"/><rect y="165" width="327" height="52" fill="#d0d8d8"/>
<rect width="52" height="217" fill="#d2d0ae"/><path d="M0,25H52M0,55H52M0,85H52M0,115H52M0,145H52M0,175H52" stroke="#6a6a50" stroke-width="3"/><rect x="52" width="6" height="217" fill="#3a3a30"/>
<path d="M90,178 C88,120 140,95 190,100 C212,82 228,76 238,80 L248,68 L256,84 C268,96 262,116 250,126 C256,150 250,175 245,186 L110,190 Z" fill="#43423a"/>
<ellipse cx="236" cy="148" rx="18" ry="34" fill="#eef0ee"/><path d="M110,186 Q60,192 5,190" stroke="#222" stroke-width="10" fill="none"/>
</svg>
<svg x="3205" y="1765" width="327" height="219" viewBox="0 0 327 219">
<rect width="327" height="219" fill="#a48a62"/><rect width="327" height="60" fill="#8a5f34"/><rect y="60" width="327" height="60" fill="#9a7a54"/><rect y="120" width="327" height="50" fill="#a89478"/><rect y="170" width="327" height="49" fill="#b8a684"/>
<rect width="55" height="219" fill="#d89a58"/><path d="M0,25H55M0,55H55M0,85H55M0,115H55M0,145H55M0,175H55" stroke="#a86a38" stroke-width="3"/>
<path d="M90,180 C88,122 140,96 190,101 C212,83 228,77 238,81 L248,69 L256,85 C268,97 262,117 250,127 C256,151 250,176 245,188 L110,192 Z" fill="#6e6048"/>
<ellipse cx="236" cy="150" rx="18" ry="34" fill="#f0ecd8"/><path d="M110,188 Q60,194 5,192" stroke="#333" stroke-width="10" fill="none"/>
</svg>
<svg x="3205" y="2001" width="327" height="220" viewBox="0 0 327 220">
<rect width="327" height="220" fill="#a4685a"/><rect width="327" height="60" fill="#9a3528"/><rect y="60" width="327" height="60" fill="#8a5a50"/><rect y="120" width="327" height="50" fill="#a07668"/><rect y="170" width="327" height="50" fill="#b88a78"/>
<rect width="55" height="220" fill="#d0704c"/><path d="M0,25H55M0,55H55M0,85H55M0,115H55M0,145H55M0,175H55" stroke="#984a30" stroke-width="3"/>
<path d="M90,180 C88,122 140,96 190,101 C212,83 228,77 238,81 L248,69 L256,85 C268,97 262,117 250,127 C256,151 250,176 245,188 L110,192 Z" fill="#5e4232"/>
<ellipse cx="236" cy="150" rx="18" ry="34" fill="#f4eee8"/><path d="M110,188 Q60,194 5,192" stroke="#2a2a2a" stroke-width="10" fill="none"/>
<rect x="18" y="72" width="272" height="135" fill="none" stroke="#8a6ae0" stroke-width="3"/>
</svg>
<svg x="3547" y="1531" width="293" height="217" viewBox="0 0 293 217">
<rect width="293" height="217" fill="#dbeded"/><ellipse cx="198" cy="80" rx="62" ry="78" fill="#22301c"/><ellipse cx="268" cy="110" rx="28" ry="45" fill="#2a3822"/><ellipse cx="45" cy="118" rx="30" ry="42" fill="#26321e"/><ellipse cx="110" cy="122" rx="26" ry="28" fill="#2e3a24"/><polygon points="150,160 165,110 200,110 210,160" fill="#1e1e1e"/>
<rect y="158" width="293" height="59" fill="#6b7330"/><rect x="157" y="134" width="18" height="44" fill="none" stroke="#d23030" stroke-width="2"/><rect x="252" y="144" width="20" height="22" fill="none" stroke="#d23030" stroke-width="2"/><rect x="105" y="17" width="35" height="15" fill="none" stroke="#6a7ae8" stroke-width="2"/>
</svg>
<svg x="3547" y="1765" width="293" height="219" viewBox="0 0 293 219">
<rect width="293" height="219" fill="#d6e4dc"/><ellipse cx="198" cy="82" rx="62" ry="78" fill="#3a4a30"/><ellipse cx="268" cy="112" rx="28" ry="45" fill="#3a4a2e"/><ellipse cx="45" cy="120" rx="30" ry="42" fill="#3e4c32"/><ellipse cx="110" cy="124" rx="26" ry="28" fill="#465638"/><polygon points="150,160 165,112 200,112 210,160" fill="#2a2a2a"/>
<rect y="158" width="293" height="61" fill="#4f762e"/><rect x="157" y="134" width="18" height="44" fill="none" stroke="#d23030" stroke-width="2"/><rect x="252" y="144" width="20" height="22" fill="none" stroke="#d23030" stroke-width="2"/><rect x="85" y="17" width="55" height="20" fill="none" stroke="#6a7ae8" stroke-width="2"/>
</svg>
<svg x="3547" y="2001" width="293" height="220" viewBox="0 0 293 220">
<rect width="293" height="220" fill="#cfe3e8"/><ellipse cx="198" cy="82" rx="62" ry="78" fill="#2a3a24"/><ellipse cx="268" cy="112" rx="28" ry="45" fill="#2e3e26"/><ellipse cx="45" cy="120" rx="30" ry="42" fill="#2e3e26"/><ellipse cx="110" cy="124" rx="26" ry="28" fill="#34442a"/><polygon points="150,160 165,112 200,112 210,160" fill="#222"/>
<rect y="158" width="293" height="62" fill="#3f8a2f"/><rect x="157" y="134" width="18" height="44" fill="none" stroke="#d23030" stroke-width="2"/><rect x="252" y="144" width="20" height="22" fill="none" stroke="#d23030" stroke-width="2"/><rect x="10" y="15" width="135" height="25" fill="none" stroke="#6a7ae8" stroke-width="2"/><rect x="80" y="38" width="35" height="25" fill="none" stroke="#6a7ae8" stroke-width="2"/>
</svg>
<svg x="3871" y="1531" width="331" height="220" viewBox="0 0 331 220">
<rect width="331" height="220" fill="#2c3036"/><rect width="331" height="40" fill="#3a3a2c"/><path d="M0,70 Q40,40 90,60 T170,50 L200,80 Q150,110 100,100 T0,120Z" fill="#e6eaee"/><path d="M220,40 Q270,20 331,50 V110 Q280,90 240,100Z" fill="#dfe4ea"/><polygon points="100,60 210,30 240,90 200,140 150,130" fill="#9a9a80"/><path d="M120,150 Q200,130 260,160 T331,150 V220 H110Z" fill="#8ea6bc"/><path d="M180,170 Q230,150 300,180 L331,220 H170Z" fill="#c8d8e4"/><rect x="0" y="180" width="120" height="40" fill="#111"/><ellipse cx="60" cy="150" rx="40" ry="20" fill="#d8dde2"/>
</svg>
<svg x="3871" y="1765" width="331" height="219" viewBox="0 0 331 219">
<rect width="331" height="219" fill="#8e8a80"/><rect width="331" height="30" fill="#3a5a2a"/><path d="M0,50 Q100,20 250,40 T331,60 V140 H0Z" fill="#c8bda8"/><rect y="140" width="331" height="79" fill="#4a4a48"/><polygon points="70,80 120,45 145,100 140,150 110,140" fill="#b83030"/><polygon points="140,80 205,60 200,140 165,145" fill="#3a9a90"/><polygon points="215,75 280,55 265,130 215,140" fill="#d0a030"/>
</svg>
<svg x="3871" y="2001" width="331" height="220" viewBox="0 0 331 220">
<rect width="331" height="220" fill="#7e7a72"/><rect width="331" height="30" fill="#2e4a26"/><path d="M0,50 Q100,20 250,40 T331,60 V140 H0Z" fill="#c6baa2"/><rect y="145" width="331" height="75" fill="#4a4a48"/><polygon points="75,80 120,45 150,110 140,150 100,140" fill="#d86a2a"/><polygon points="140,80 200,45 190,145 150,145" fill="#a02040"/><polygon points="215,60 280,45 265,130 215,140" fill="#40b0b8"/><polygon points="50,150 90,130 110,170 60,200" fill="#d0a838"/>
</svg>
<svg x="4217" y="1531" width="297" height="220" viewBox="0 0 297 220">
<rect width="297" height="220" fill="#3c3c42"/><rect width="297" height="45" fill="#e6e6ea"/><polygon points="5,40 140,40 180,30 240,25 270,5 290,10 290,120 5,125" fill="#2a2ad8"/><polygon points="5,40 140,40 180,30 240,25 290,10 290,60 5,70" fill="#5a5ee0"/><polygon points="0,125 297,110 297,140 0,150" fill="#6a6a70"/><rect x="200" y="180" width="40" height="40" fill="#111"/>
</svg>
<svg x="4217" y="1765" width="297" height="219" viewBox="0 0 297 219">
<rect width="297" height="219" fill="#2e2a30"/><rect width="297" height="75" fill="#e2e8ee"/><rect x="5" y="40" width="85" height="100" fill="#4b3a34"/><rect x="90" y="65" width="120" height="70" fill="#5a3a34"/><rect x="225" y="10" width="60" height="130" fill="#6a4a3a"/><ellipse cx="165" cy="120" rx="30" ry="15" fill="#c06a30"/><polygon points="0,140 297,135 297,150 0,165" fill="#5a4a48"/><rect x="200" y="178" width="40" height="41" fill="#111"/>
</svg>
<svg x="4217" y="2001" width="297" height="220" viewBox="0 0 297 220">
<rect width="297" height="220" fill="#262628"/><rect width="297" height="85" fill="url(#sky1)"/><rect x="5" y="45" width="85" height="100" fill="#3c332c"/><rect x="90" y="70" width="120" height="75" fill="#40342c"/><rect x="225" y="10" width="62" height="135" fill="#5a4a38"/><ellipse cx="165" cy="125" rx="28" ry="14" fill="#d89a40"/><polygon points="0,145 297,140 297,155 0,170" fill="#4a4038"/><rect x="200" y="180" width="40" height="40" fill="#111"/>
</svg>
</svg>
</div></body></html>
